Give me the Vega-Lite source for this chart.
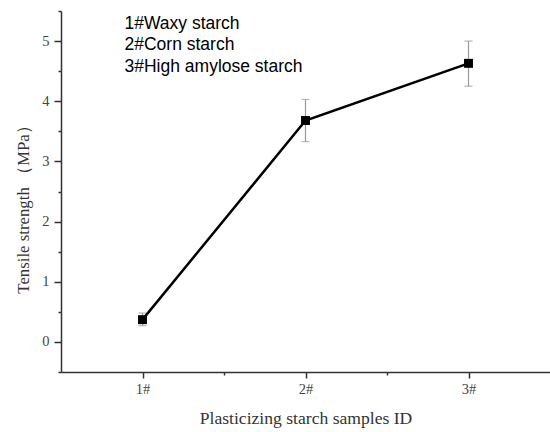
{
  "$schema": "https://vega.github.io/schema/vega-lite/v6.json",
  "width": 489,
  "height": 361,
  "autosize": {"type": "none"},
  "padding": {"left": 61, "top": 11, "right": 0, "bottom": 60},
  "background": "white",
  "config": {
    "view": {"stroke": null},
    "axisY": {
      "grid": false,
      "domainColor": "#333",
      "domainWidth": 1.5,
      "tickColor": "#333",
      "tickWidth": 1.5,
      "labelFont": "Liberation Serif",
      "labelFontSize": 14.5,
      "labelColor": "#444",
      "titleFont": "Liberation Serif",
      "titleFontSize": 16.8,
      "titleFontWeight": "normal",
      "titleColor": "#333",
      "labelPadding": 5,
      "titleX": -38,
      "titleY": 194,
      "titleAlign": "center",
      "titleBaseline": "middle",
      "titleAngle": 270
    },
    "axisX": {
      "grid": false,
      "domainColor": "#333",
      "domainWidth": 1.5,
      "tickColor": "#333",
      "tickWidth": 1.5,
      "labelFont": "Liberation Serif",
      "labelFontSize": 14.5,
      "labelColor": "#444",
      "titleFont": "Liberation Serif",
      "titleFontSize": 17.6,
      "titleFontWeight": "normal",
      "titleColor": "#333"
    }
  },
  "data": {
    "values": [
      {"id": 1, "name": "1#Waxy starch", "ts": 0.37, "lo": 0.27, "hi": 0.48},
      {"id": 2, "name": "2#Corn starch", "ts": 3.68, "lo": 3.33, "hi": 4.03},
      {"id": 3, "name": "3#High amylose starch", "ts": 4.63, "lo": 4.25, "hi": 5.0}
    ]
  },
  "encoding": {
    "x": {
      "field": "id",
      "type": "quantitative",
      "scale": {"domain": [0.5, 3.5], "nice": false, "zero": false},
      "axis": {
        "title": "Plasticizing starch samples ID",
        "values": [1, 1.5, 2, 2.5, 3],
        "labelExpr": "datum.value % 1 === 0 ? datum.value + '#' : ''",
        "tickSize": {"condition": {"test": "datum.value % 1 === 0", "value": 6}, "value": 3},
        "labelPadding": 4,
        "titlePadding": 14
      }
    }
  },
  "layer": [
    {
      "mark": {"type": "rule", "color": "#999", "strokeWidth": 1.2},
      "encoding": {
        "y": {
          "field": "lo",
          "type": "quantitative",
          "title": "Tensile strength （MPa）",
          "scale": {"domain": [-0.5, 5.5], "nice": false, "zero": false},
          "axis": {
            "values": [-0.5, 0, 0.5, 1, 1.5, 2, 2.5, 3, 3.5, 4, 4.5, 5, 5.5],
            "labelExpr": "datum.value % 1 === 0 ? '' + datum.value : ''",
            "tickSize": {"condition": {"test": "datum.value % 1 === 0", "value": 7}, "value": 3}
          }
        },
        "y2": {"field": "hi"}
      }
    },
    {
      "mark": {"type": "tick", "color": "#999", "orient": "horizontal", "size": 8, "thickness": 1.2},
      "encoding": {"y": {"field": "lo", "type": "quantitative", "title": "Tensile strength （MPa）",
          "axis": {
            "values": [-0.5, 0, 0.5, 1, 1.5, 2, 2.5, 3, 3.5, 4, 4.5, 5, 5.5],
            "labelExpr": "datum.value % 1 === 0 ? '' + datum.value : ''",
            "tickSize": {"condition": {"test": "datum.value % 1 === 0", "value": 7}, "value": 3}
          }}}
    },
    {
      "mark": {"type": "tick", "color": "#999", "orient": "horizontal", "size": 8, "thickness": 1.2},
      "encoding": {"y": {"field": "hi", "type": "quantitative", "title": "Tensile strength （MPa）",
          "axis": {
            "values": [-0.5, 0, 0.5, 1, 1.5, 2, 2.5, 3, 3.5, 4, 4.5, 5, 5.5],
            "labelExpr": "datum.value % 1 === 0 ? '' + datum.value : ''",
            "tickSize": {"condition": {"test": "datum.value % 1 === 0", "value": 7}, "value": 3}
          }}}
    },
    {
      "mark": {"type": "line", "color": "black", "strokeWidth": 2.5},
      "encoding": {"y": {"field": "ts", "type": "quantitative", "title": "Tensile strength （MPa）",
          "axis": {
            "values": [-0.5, 0, 0.5, 1, 1.5, 2, 2.5, 3, 3.5, 4, 4.5, 5, 5.5],
            "labelExpr": "datum.value % 1 === 0 ? '' + datum.value : ''",
            "tickSize": {"condition": {"test": "datum.value % 1 === 0", "value": 7}, "value": 3}
          }}}
    },
    {
      "mark": {"type": "point", "shape": "square", "filled": true, "size": 80, "opacity": 1},
      "encoding": {
        "y": {"field": "ts", "type": "quantitative", "title": "Tensile strength （MPa）",
          "axis": {
            "values": [-0.5, 0, 0.5, 1, 1.5, 2, 2.5, 3, 3.5, 4, 4.5, 5, 5.5],
            "labelExpr": "datum.value % 1 === 0 ? '' + datum.value : ''",
            "tickSize": {"condition": {"test": "datum.value % 1 === 0", "value": 7}, "value": 3}
          }},
        "color": {
          "field": "name",
          "type": "nominal",
          "scale": {"range": ["black", "black", "black"]},
          "legend": {
            "orient": "none",
            "legendX": 46,
            "legendY": 4,
            "padding": 0,
            "title": null,
            "symbolSize": 0,
            "symbolOpacity": 0,
            "symbolStrokeWidth": 0,
            "labelOffset": 0,
            "labelFont": "Liberation Sans",
            "labelFontSize": 17.5,
            "labelColor": "black",
            "labelLimit": 400,
            "rowPadding": 2.5
          }
        }
      }
    }
  ]
}
